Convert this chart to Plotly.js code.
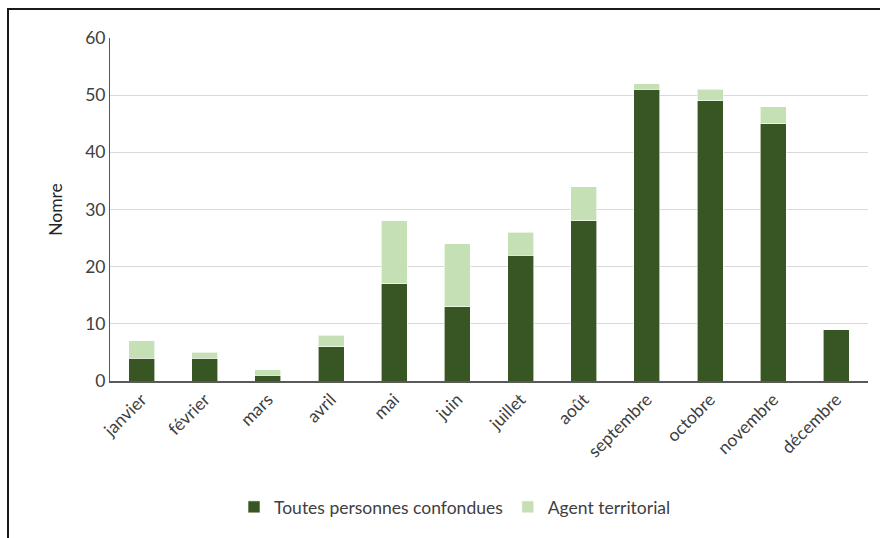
<!DOCTYPE html>
<html>
<head>
<meta charset="utf-8">
<script src="https://cdn.plot.ly/plotly-3.0.1.min.js"></script>
<style>
html,body{margin:0;padding:0;background:#fff;}
#chart{width:880px;height:538px;}
</style>
</head>
<body>
<div id="chart"></div>
<script>
const months = ["janvier","février","mars","avril","mai","juin","juillet","août","septembre","octobre","novembre","décembre"];
const toutesPersonnes = [4,4,1,6,17,13,22,28,51,49,45,9];
const agentTerritorial = [3,1,1,2,11,11,4,6,1,2,3,0];
const seriesNames = ["Toutes personnes confondues","Agent territorial"];
const yTicks = [0,10,20,30,40,50,60];

const font = "Lato, 'Noto Sans', sans-serif";

const traces = [
  {type:"bar", name:seriesNames[0], x:months, y:toutesPersonnes,
   marker:{color:"#375623", line:{color:"#ffffff", width:0.6}}, hoverinfo:"x+y"},
  {type:"bar", name:seriesNames[1], x:months, y:agentTerritorial,
   marker:{color:"#c5e0b4", line:{color:"#ffffff", width:0.6}}, hoverinfo:"x+y"}
];

const x0 = (8-110)/758, yTop = (381-9)/343;
const layout = {
  width:880, height:538,
  barmode:"stack", bargap:0.59,
  margin:{l:110, r:12, t:38, b:157},
  paper_bgcolor:"#fff", plot_bgcolor:"#fff",
  font:{family:font, size:18, color:"#595959"},
  xaxis:{tickangle:-45, showline:true, linecolor:"#595959", linewidth:1.5,
         ticks:"", showgrid:false, tickfont:{size:17.5, color:"#404040"}},
  yaxis:{range:[0,60], tickvals:yTicks, showline:true, linecolor:"#595959", linewidth:1,
         gridcolor:"#d9d9d9", gridwidth:1, zeroline:false, ticks:"", ticklen:0,
         tickfont:{size:17.5, color:"#404040"},
         title:{text:"Nomre", font:{size:17.5, color:"#262626"}, standoff:18}},
  showlegend:true,
  legend:{orientation:"h", xref:"container", yref:"container", x:455/880, xanchor:"center",
          y:1-507/538, yanchor:"middle", font:{size:17.5, color:"#404040"}, traceorder:"normal"},
  shapes:[{type:"path", xref:"paper", yref:"paper",
           path:`M ${x0},-1 L ${x0},${yTop} L 1.5,${yTop}`,
           line:{color:"#1a1a1a", width:2}}]
};
Plotly.newPlot("chart", traces, layout, {displayModeBar:false, staticPlot:true});
</script>
</body>
</html>
